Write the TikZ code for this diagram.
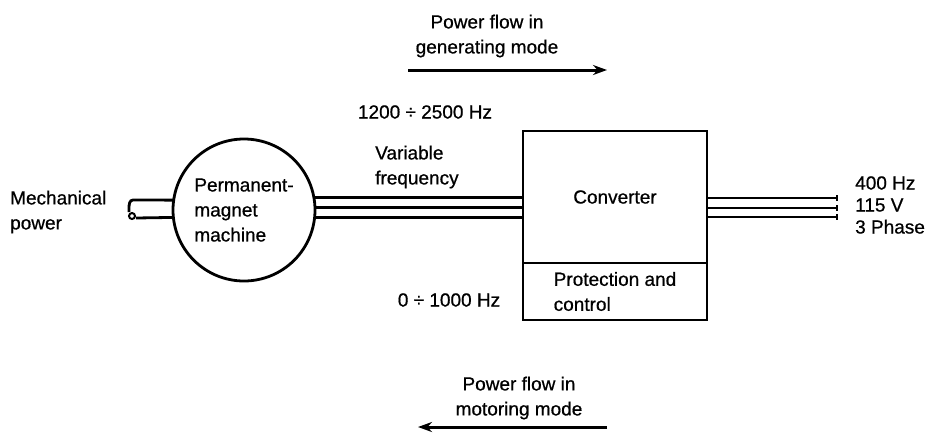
\documentclass[tikz,border=0pt]{standalone}
\usepackage{fontspec}
\setmainfont{Liberation Sans}
\newfontfamily\diagfont{Liberation Sans}[FakeBold=0.7]
\usetikzlibrary{arrows.meta,calc}
\begin{document}
\begin{tikzpicture}[x=1pt,y=-1pt,
  every node/.style={font=\diagfont\fontsize{19}{25}\selectfont},
  wire/.style={line width=2.8pt},
  box/.style={draw,line width=2.8pt,rectangle,inner sep=0pt,outer sep=0pt},
  lbl/.style={inner sep=0pt},
  flow/.style={line width=3pt,-{Stealth[length=14pt,width=10pt]}}]
\useasboundingbox (0,0) rectangle (928,432);
% machine
\node[draw,line width=2.8pt,circle,minimum size=142pt,inner sep=0pt,outer sep=0pt,align=left] (pm) at (244,210)
  {Permanent-\\magnet\\machine};
% converter
\node[box,minimum width=184pt,minimum height=132pt] (conv) at (615,197) {Converter};
\node[box,minimum width=184pt,minimum height=57pt,anchor=north,align=left] (prot) at (conv.south)
  {Protection and\\control};
% wires machine -> converter
\foreach \a in {10,2,-6}{
  \draw[wire] (pm.\a) -- (pm.\a -| conv.west);
}
% output wires
\coordinate (o1) at (837,198);
\coordinate (o2) at (837,208);
\coordinate (o3) at (837,217);
\foreach \o in {o1,o2,o3}{
  \draw[wire] (\o -| conv.east) -- (\o);
  \draw[line width=1.8pt] ($(\o)+(0,-3)$) -- ($(\o)+(0,3)$);
}
% shaft
\coordinate (s1) at (133,200);
\coordinate (s2) at (129,208);
\coordinate (s3) at (129,212);
\node[draw,circle,line width=2pt,minimum size=6pt,inner sep=0pt] (sc) at (132,216) {};
\draw[wire] (pm.172) -- (s1) to[out=180,in=90] (s2) -- (s3);
\draw[wire] (sc.east |- 0,218) -- (pm.186);
% labels
\node[lbl,anchor=west,align=left] (mech) at (10,212) {Mechanical\\power};
\node[lbl,align=center] (gen) at (487,36) {Power flow in\\generating mode};
\coordinate (g1) at (408,70);
\coordinate (g2) at (607,70);
\draw[flow] (g1) -- (g2);
\node[lbl] (f1) at (425,112) {1200 ÷ 2500 Hz};
\node[lbl,anchor=west,align=left] (vf) at (375,167) {Variable\\frequency};
\node[lbl] (f2) at (449,300) {0 ÷ 1000 Hz};
\node[lbl,anchor=west,align=left,font=\diagfont\fontsize{19}{22}\selectfont] (out) at (855,205) {400 Hz\\115 V\\3 Phase};
\node[lbl,align=center] (mot) at (519,398) {Power flow in\\motoring mode};
\coordinate (m1) at (607,427);
\coordinate (m2) at (418,427);
\draw[flow] (m1) -- (m2);
\end{tikzpicture}
\end{document}
